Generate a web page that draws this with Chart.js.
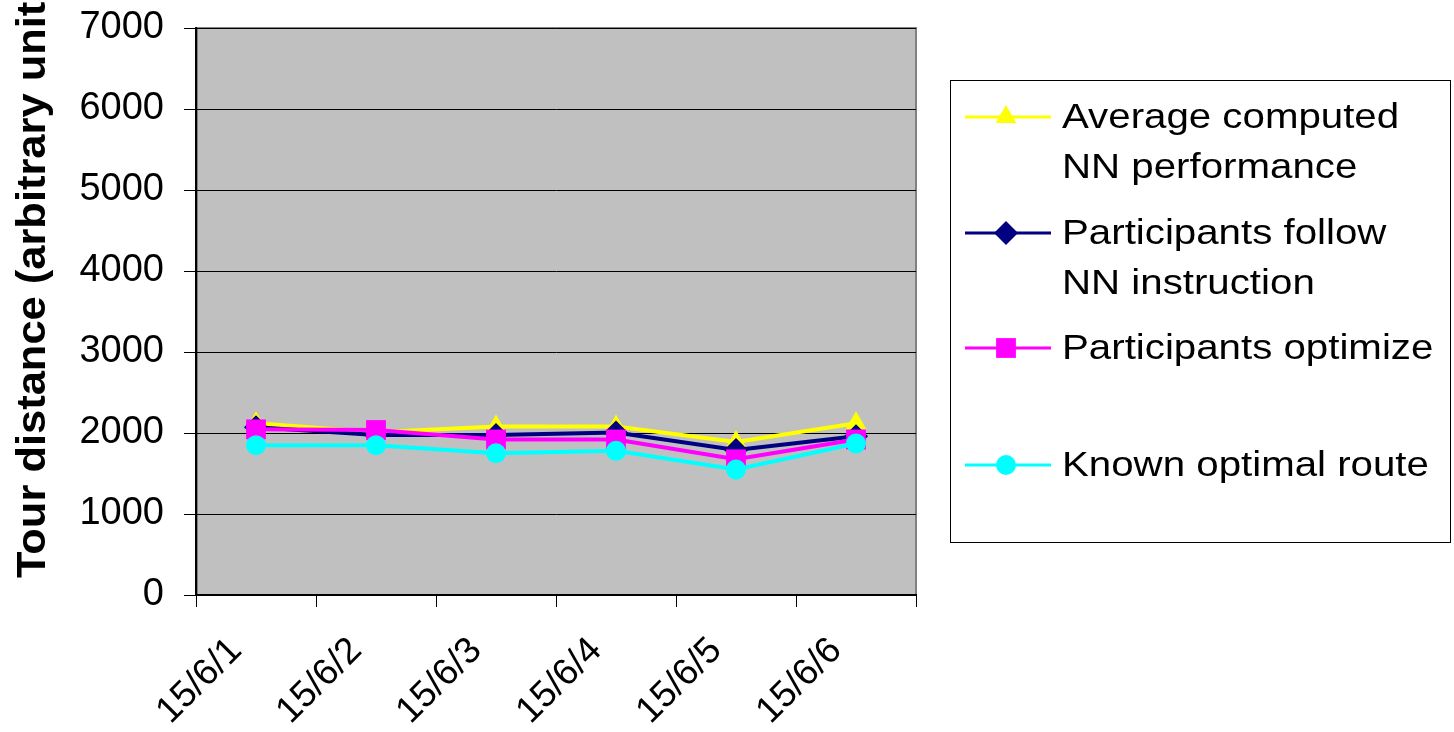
<!DOCTYPE html>
<html>
<head>
<meta charset="utf-8">
<script src="https://cdn.jsdelivr.net/npm/chart.js@4/dist/chart.umd.min.js"></script>
<style>
  html, body { margin: 0; padding: 0; background: #fff; }
  canvas { display: block; }
</style>
</head>
<body>
<canvas id="tourChart" width="1454" height="732"></canvas>
<script>
var dayLabels = ['15/6/1', '15/6/2', '15/6/3', '15/6/4', '15/6/5', '15/6/6'];
var avgNN = [2120, 2010, 2080, 2080, 1890, 2120];
var followNN = [2070, 1975, 1975, 2005, 1790, 1960];
var optimize = [2045, 2037, 1920, 1920, 1675, 1920];
var optimal = [1850, 1850, 1750, 1780, 1550, 1870];
var seriesNames = [
    ['Average computed', 'NN performance'],
    ['Participants follow', 'NN instruction'],
    ['Participants optimize'],
    ['Known optimal route']
];
var yTitle = 'Tour distance (arbitrary units)';

var fontName = '"Liberation Sans", Arial, sans-serif';

// grey plot background + frame
var plotBg = {
    id: 'plotBg',
    beforeDraw(chart){
        var a = chart.chartArea, ctx = chart.ctx;
        ctx.save();
        ctx.fillStyle = '#c0c0c0';
        ctx.fillRect(a.left, a.top, a.right - a.left, a.bottom - a.top);
        ctx.strokeStyle = '#808080';
        ctx.lineWidth = 2;
        ctx.strokeRect(a.left + 1, a.top, a.right - a.left - 1, a.bottom - a.top);
        ctx.restore();
    }
};

// rotated axis title, starting near the bottom of the plot and running off the top
var axisTitle = {
    id: 'axisTitle',
    afterDraw(chart){
        var ctx = chart.ctx;
        ctx.save();
        ctx.translate(45, 578);
        ctx.rotate(-Math.PI / 2);
        ctx.scale(1.06, 1);
        ctx.fillStyle = '#000';
        ctx.font = 'bold 41px ' + fontName;
        ctx.textAlign = 'left';
        ctx.textBaseline = 'alphabetic';
        ctx.fillText(yTitle, 0, 0);
        ctx.restore();
    }
};

// boxed legend on the right, with two-line labels
var boxLegend = {
    id: 'boxLegend',
    afterDraw(chart){
        var ctx = chart.ctx;
        var rows = [117, 233, 348, 465];
        ctx.save();
        ctx.fillStyle = '#fff';
        ctx.fillRect(950, 80, 500, 462);
        ctx.strokeStyle = '#000';
        ctx.lineWidth = 1;
        ctx.strokeRect(950.5, 80.5, 500, 462);
        chart.data.datasets.forEach((ds, i) => {
            var y = rows[i];
            ctx.strokeStyle = ds.borderColor;
            ctx.lineWidth = 3;
            ctx.beginPath();
            ctx.moveTo(965, y);
            ctx.lineTo(1051, y);
            ctx.stroke();
            ctx.fillStyle = ds.backgroundColor;
            Chart.helpers.drawPoint(ctx, {pointStyle: ds.pointStyle, radius: ds.pointRadius, rotation: 0}, 1006, y);
            ctx.fillStyle = '#000';
            ctx.font = '35px ' + fontName;
            ctx.textBaseline = 'alphabetic';
            ctx.textAlign = 'left';
            seriesNames[i].forEach((line, j) => {
                ctx.save();
                ctx.translate(1062, y + 11 + j * 50);
                ctx.scale(1.15, 1);
                ctx.fillText(line, 0, 0);
                ctx.restore();
            });
        });
        ctx.restore();
    }
};

function makeSet(data, color, style, radius, order){
    return {
        data: data,
        borderColor: color,
        backgroundColor: color,
        borderWidth: 4,
        pointStyle: style,
        pointRadius: radius,
        pointHoverRadius: radius,
        pointBorderWidth: 0,
        order: order,
        tension: 0
    };
}

new Chart(document.getElementById('tourChart'), {
    type: 'line',
    data: {
        labels: dayLabels,
        datasets: [
            makeSet(avgNN, '#ffff00', 'triangle', 12, 3),
            makeSet(followNN, '#000080', 'rectRot', 12, 2),
            makeSet(optimize, '#ff00ff', 'rect', 14, 1),
            makeSet(optimal, '#00ffff', 'circle', 10, 0)
        ]
    },
    options: {
        responsive: false,
        animation: false,
        layout: { padding: { top: 28, right: 538, left: 0, bottom: 0 } },
        plugins: { legend: { display: false }, tooltip: { enabled: false } },
        scales: {
            x: {
                offset: true,
                grid: { offset: true, drawOnChartArea: false, drawTicks: true, tickLength: 12, color: '#000', lineWidth: 1 },
                border: { color: '#000', width: 2 },
                ticks: { color: '#000', font: { family: fontName, size: 37 }, minRotation: 45, maxRotation: 45, padding: 22, labelOffset: -20 },
                afterFit(scale){ scale.height = 137; }
            },
            y: {
                min: 0,
                max: 7000,
                ticks: { stepSize: 1000, color: '#000', font: { family: fontName, size: 38 }, padding: 20,
                    callback: (value) => String(value) },
                grid: { color: '#000', lineWidth: 1, tickLength: 12 },
                border: { color: '#000', width: 2 },
                afterFit(scale){
                    scale.width = 196;
                    scale.paddingTop = 0;
                    scale.paddingBottom = 0;
                }
            }
        }
    },
    plugins: [plotBg, axisTitle, boxLegend]
});
</script>
</body>
</html>
